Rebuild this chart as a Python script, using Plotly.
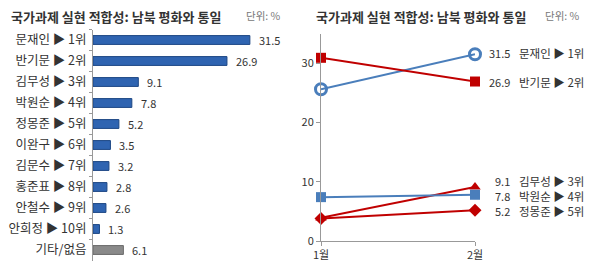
import plotly.graph_objects as go

# ---- data ----
bar_labels = ["문재인 ▶ 1위", "반기문 ▶ 2위", "김무성 ▶ 3위", "박원순 ▶ 4위", "정몽준 ▶ 5위",
              "이완구 ▶ 6위", "김문수 ▶ 7위", "홍준표 ▶ 8위", "안철수 ▶ 9위", "안희정 ▶ 10위", "기타/없음"]
bar_values = [31.5, 26.9, 9.1, 7.8, 5.2, 3.5, 3.2, 2.8, 2.6, 1.3, 6.1]

months = ["1월", "2월"]
line_names = ["문재인 ▶ 1위", "반기문 ▶ 2위", "김무성 ▶ 3위", "박원순 ▶ 4위", "정몽준 ▶ 5위"]
line_jan = [25.6, 30.9, 3.9, 7.4, 3.8]
line_feb = [31.5, 26.9, 9.1, 7.8, 5.2]

title_text = "국가과제 실현 적합성: 남북 평화와 통일"
unit_text = "단위: %"

# ---- styles ----
FONT = "Noto Sans CJK KR"
TXT = "#333333"
BLUE = "#4a7ebb"
RED = "#c00000"
bar_colors = ["#2f64b1"] * 10 + ["#8a8a8a"]
bar_lines = ["#1d4784"] * 10 + ["#6a6a6a"]
line_colors = [BLUE, RED, RED, BLUE, RED]
line_symbols = ["circle-open", "square", "triangle-up", "square", "diamond"]
label_yshift = [1, 0, 6, -1, -1]
W, H = 600, 265

fig = go.Figure()

fig.add_trace(go.Bar(
    x=bar_values, y=bar_labels, orientation="h",
    marker=dict(color=bar_colors, line=dict(color=bar_lines, width=1)),
    width=0.42, xaxis="x", yaxis="y", showlegend=False, hoverinfo="skip",
))

for i, name in enumerate(line_names):
    fig.add_trace(go.Scatter(
        x=[0, 1], y=[line_jan[i], line_feb[i]], mode="lines+markers",
        line=dict(color=line_colors[i], width=2),
        marker=dict(symbol=line_symbols[i], size=10 if line_symbols[i] != "circle-open" else 11,
                    color=line_colors[i],
                    line=dict(width=3 if line_symbols[i] == "circle-open" else 0, color=line_colors[i])),
        xaxis="x2", yaxis="y2", showlegend=False, cliponaxis=False, hoverinfo="skip",
    ))

ann = []
# bar value labels
for lab, v in zip(bar_labels, bar_values):
    ann.append(dict(x=v, y=lab, xref="x", yref="y", text=f"{v}", showarrow=False,
                    xanchor="left", xshift=7, font=dict(family=FONT, size=11, color=TXT)))
# line end labels
for i, name in enumerate(line_names):
    ann.append(dict(x=1, y=line_feb[i], xref="x2", yref="y2", text=f"{line_feb[i]}", showarrow=False,
                    xanchor="right", xshift=36, yshift=label_yshift[i], borderpad=0,
                    font=dict(family=FONT, size=11, color=TXT)))
    ann.append(dict(x=1, y=line_feb[i], xref="x2", yref="y2", text=name, showarrow=False,
                    xanchor="left", xshift=43, yshift=label_yshift[i], borderpad=0,
                    font=dict(family=FONT, size=11.5, color=TXT)))
# titles
for x0, xu in [(9, 244), (314, 543)]:
    ann.append(dict(x=x0 / W, y=1 - 17 / H, xref="paper", yref="paper", text=f"<b>{title_text}</b>",
                    showarrow=False, xanchor="left", yanchor="middle",
                    font=dict(family=FONT, size=13, color=TXT)))
    ann.append(dict(x=xu / W, y=1 - 16 / H, xref="paper", yref="paper", text=unit_text,
                    showarrow=False, xanchor="left", yanchor="middle",
                    font=dict(family=FONT, size=10.5, color="#777777")))

fig.update_layout(
    width=W, height=H, margin=dict(l=0, r=0, t=0, b=0, autoexpand=False),
    paper_bgcolor="white", plot_bgcolor="white",
    font=dict(family=FONT, color=TXT),
    annotations=ann,
    xaxis=dict(domain=[93 / W, 300 / W], range=[0, 207 / 4.98], visible=False, automargin=False),
    yaxis=dict(domain=[4.5 / H, 235.5 / H], autorange="reversed", type="category", automargin=False,
               showline=True, linecolor="#999999", linewidth=1, ticks="outside", ticklen=3,
               tickcolor="#999999", tickson="boundaries", showgrid=False,
               tickfont=dict(family=FONT, size=12.5, color=TXT), ticklabelstandoff=3),
    xaxis2=dict(domain=[321 / W, 475 / W], range=[0, 1], tickvals=[0, 1], ticktext=months,
                showline=True, linecolor="#999999", linewidth=1, ticks="outside", ticklen=4,
                tickcolor="#999999", showgrid=False, zeroline=False, automargin=False,
                tickfont=dict(family=FONT, size=11, color=TXT), anchor="y2"),
    yaxis2=dict(domain=[24 / H, 231.5 / H], range=[0, 35], tickvals=[0, 10, 20, 30],
                showline=True, linecolor="#999999", linewidth=1, ticks="outside", ticklen=4,
                tickcolor="#999999", showgrid=False, zeroline=False, automargin=False,
                tickfont=dict(family=FONT, size=11, color=TXT), anchor="x2"),
)

fig.write_html("out.html")
